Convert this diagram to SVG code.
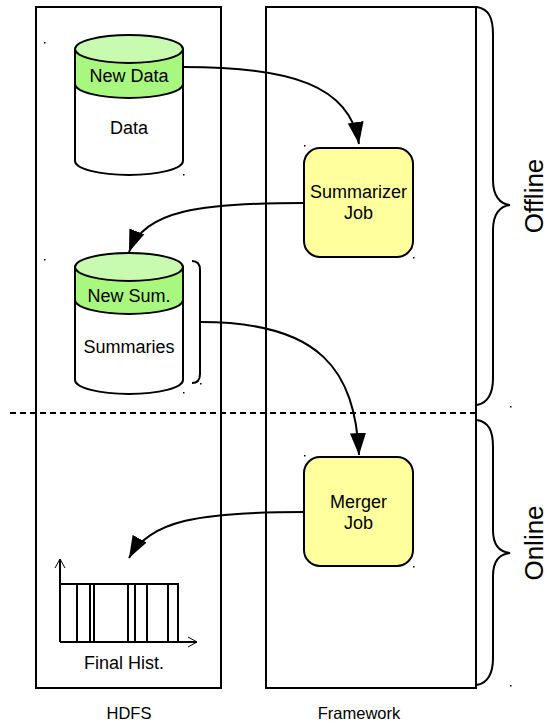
<svg xmlns="http://www.w3.org/2000/svg" width="549" height="723" viewBox="0 0 549 723">
<style>
text{font-family:"Liberation Sans",Arial,sans-serif;fill:#000}
.col{fill:none;stroke:#000;stroke-width:2}
.ln{fill:none;stroke:#000;stroke-width:2}
.band{fill:#a8f77f}
.topf{fill:#c8fbb0;stroke:#000;stroke-width:2}
.body{fill:#fff}
.job{fill:#ffff9e;stroke:#000;stroke-width:2}
.t18{font-size:18px;text-anchor:middle}
.t16{font-size:16.5px;text-anchor:middle}
.t27{font-size:26px;text-anchor:middle}
.conn{fill:none;stroke:#000;stroke-width:2}
.dot{fill:#000}
</style>
<defs>
<marker id="ah" markerUnits="userSpaceOnUse" markerWidth="24" markerHeight="18" refX="22" refY="8" orient="auto" viewBox="0 0 24 16">
<path d="M0,0 L22,8 L0,16 Z" fill="#000"/>
</marker>
<marker id="oa" markerUnits="userSpaceOnUse" markerWidth="12" markerHeight="12" refX="9" refY="5" orient="auto" viewBox="0 0 12 10">
<path d="M0,0 L9,5 L0,10" fill="none" stroke="#000" stroke-width="1"/>
</marker>
</defs>
<g id="hdfs-column">
<rect class="col" x="36" y="7" width="185" height="681"/>
<text class="t16" x="129" y="719">HDFS</text>
</g>
<g id="framework-column">
<rect class="col" x="266" y="7" width="210" height="681"/>
<text class="t16" x="359" y="719">Framework</text>
</g>
<g id="divider">
<line x1="10" y1="413" x2="476" y2="413" stroke="#000" stroke-width="2" stroke-dasharray="6,4"/>
</g>
<g id="data-store">
<path class="body" d="M75,84 A54,14 0 0 0 183,84 L183,161 A54,14 0 0 1 75,161 Z"/>
<path class="band" d="M75,49 L75,84 A54,14 0 0 0 183,84 L183,49 Z"/>
<path class="ln" d="M75,49 L75,161 A54,14 0 0 0 183,161 L183,49 M75,84 A54,14 0 0 0 183,84"/>
<ellipse class="topf" cx="129" cy="49" rx="54" ry="14"/>
<text class="t18" x="129" y="82">New Data</text>
<text class="t18" x="129" y="134">Data</text>
</g>
<g id="summaries-store">
<path class="body" d="M75,300 A54,14 0 0 0 183,300 L183,380 A54,14 0 0 1 75,380 Z"/>
<path class="band" d="M75,267 L75,300 A54,14 0 0 0 183,300 L183,267 Z"/>
<path class="ln" d="M75,267 L75,380 A54,14 0 0 0 183,380 L183,267 M75,300 A54,14 0 0 0 183,300"/>
<ellipse class="topf" cx="129" cy="267" rx="54" ry="14"/>
<text class="t18" x="129" y="302">New Sum.</text>
<text class="t18" x="129" y="353">Summaries</text>
<path class="ln" d="M192,261 Q200,261 200,270 L200,374 Q200,383 192,383"/>
</g>
<g id="summarizer-job">
<rect class="job" x="304" y="148" width="109" height="109" rx="16" ry="16"/>
<text class="t18" x="358.5" y="198">Summarizer</text>
<text class="t18" x="358.5" y="219">Job</text>
</g>
<g id="merger-job">
<rect class="job" x="304" y="457" width="109" height="109" rx="16" ry="16"/>
<text class="t18" x="358.5" y="508">Merger</text>
<text class="t18" x="358.5" y="529">Job</text>
</g>
<g id="final-hist">
<line class="ln" x1="60" y1="642" x2="60" y2="559" stroke-width="1.5" marker-end="url(#oa)"/>
<line class="ln" x1="60" y1="642" x2="197" y2="642" stroke-width="1.5" marker-end="url(#oa)"/>
<path class="ln" d="M60,584 H178 V642 M77,584 V642 M90,584 V642 M94,584 V642 M128,584 V642 M135,584 V642 M147,584 V642 M168,584 V642"/>
<text class="t18" x="124" y="669">Final Hist.</text>
</g>
<g id="offline-brace">
<path class="ln" d="M477,7 C489,9 493,18 493,35 L493,180 C493,196 500,204 510,205 C500,206 493,214 493,230 L493,378 C493,394 487,403 477,405"/>
<text class="t27" transform="translate(543,196) rotate(-90)">Offline</text>
</g>
<g id="online-brace">
<path class="ln" d="M477,420 C489,422 493,431 493,447 L493,530 C493,545 500,552 510,553 C500,554 493,561 493,576 L493,658 C493,674 487,683 477,685"/>
<text class="t27" transform="translate(543,543) rotate(-90)">Online</text>
</g>
<g id="dots">
<rect class="dot" x="44" y="42" width="1.5" height="1.5"/>
<rect class="dot" x="183" y="174" width="1.5" height="1.5"/>
<rect class="dot" x="304" y="145" width="1.5" height="1.5"/>
<rect class="dot" x="413" y="257" width="1.5" height="1.5"/>
<rect class="dot" x="44" y="259" width="1.5" height="1.5"/>
<rect class="dot" x="183" y="392" width="1.5" height="1.5"/>
<rect class="dot" x="200" y="383" width="1.5" height="1.5"/>
<rect class="dot" x="304" y="455" width="1.5" height="1.5"/>
<rect class="dot" x="413" y="566" width="1.5" height="1.5"/>
<rect class="dot" x="510" y="406" width="1.5" height="1.5"/>
<rect class="dot" x="510" y="685" width="1.5" height="1.5"/>
</g>
<g id="connectors">
<path class="conn" d="M183,67 C290,67 350,85 359,144" marker-end="url(#ah)"/>
<path class="conn" d="M304,203 C200,203 145,210 129,252" marker-end="url(#ah)"/>
<path class="conn" d="M201,322 C320,322 355,370 359,455" marker-end="url(#ah)"/>
<path class="conn" d="M304,512 C200,512 150,520 129,558" marker-end="url(#ah)"/>
</g>
</svg>
